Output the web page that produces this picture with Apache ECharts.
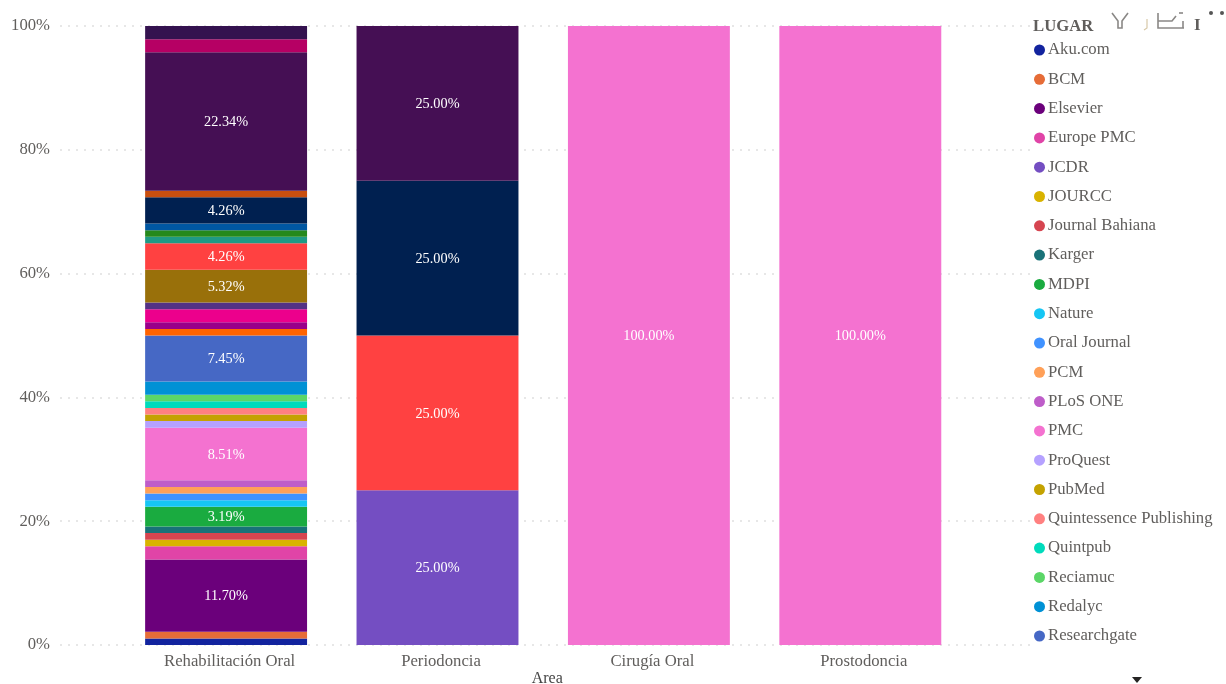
<!DOCTYPE html>
<html><head><meta charset="utf-8">
<style>html,body{margin:0;padding:0;background:#fff}#c{width:1226px;height:684px}</style>
<script src="https://cdn.jsdelivr.net/npm/echarts@6/dist/echarts.min.js"></script>
</head><body><div id="c"></div>
<script>
const categories = ['Rehabilitación Oral','Periodoncia','Cirugía Oral','Prostodoncia'];
const yTicks = ['0%','20%','40%','60%','80%','100%'];
const legendTitle = 'LUGAR';
const axisName = 'Area';

// Publication counts per area, stacked bottom to top (names after Researchgate are scrolled out of the legend)
const seriesNames = ['Aku.com','BCM','Elsevier','Europe PMC','JCDR','JOURCC','Journal Bahiana','Karger','MDPI','Nature','Oral Journal','PCM','PLoS ONE','PMC','ProQuest','PubMed','Quintessence Publishing','Quintpub','Reciamuc','Redalyc','Researchgate',
  'Lugar 22','Lugar 23','Lugar 24','Lugar 25','Lugar 26','Lugar 27','Lugar 28','Lugar 29','Lugar 30','Lugar 31','Lugar 32','Lugar 33','Lugar 34','Lugar 35'];
const legendNames = seriesNames.slice(0,21);
const palette = ['#12239E','#E66C37','#6B007B','#E044A7','#744EC2','#D9B300','#D64550','#197278','#1AAB40','#15C6F4','#4092FF','#FFA058','#BE5DC9','#F472D0','#B5A1FF','#C4A200','#FF8080','#00DBBC','#5BD667','#0091D5','#4668C5',
  '#FF6300','#99008A','#EC008C','#533285','#99700A','#FF4141','#1F9A85','#25891C','#0057A2','#002050','#C94F0F','#450F54','#B60064','#34124F'];
const rehabilitacion = [1,1,11,2,0,1,1,1,3,1,1,1,1,8,1,1,1,1,1,2,7,1,1,2,1,5,4,1,1,1,4,1,21,2,2];
const periodoncia    = [0,0,0,0,1,0,0,0,0,0,0,0,0,0,0,0,0,0,0,0,0,0,0,0,0,0,1,0,0,0,1,0,1,0,0];
const cirugia        = [0,0,0,0,0,0,0,0,0,0,0,0,0,1,0,0,0,0,0,0,0,0,0,0,0,0,0,0,0,0,0,0,0,0,0];
const prostodoncia   = [0,0,0,0,0,0,0,0,0,0,0,0,0,1,0,0,0,0,0,0,0,0,0,0,0,0,0,0,0,0,0,0,0,0,0];
const columns = [rehabilitacion,periodoncia,cirugia,prostodoncia];
const labelMinPercent = 3;

const serif = '"Liberation Serif","Times New Roman",serif';
const gray = '#605E5C';
const totals = columns.map(c => c.reduce((a,b)=>a+b,0));

const series = seriesNames.map((name,i)=>({
  name, type:'bar', stack:'total', xAxisIndex:0, yAxisIndex:0,
  barWidth:'76.6%',
  itemStyle:{color:palette[i]},
  label:{show:true,position:'inside',offset:[0,1],color:'#fff',fontFamily:serif,fontSize:14.3,
    formatter:p=>p.value>=labelMinPercent?p.value.toFixed(2)+'%':''},
  data:columns.map((c,k)=>c[i]?c[i]/totals[k]*100:null)
}));
// Empty series that carries the long gridlines and y-axis labels
series.push({type:'bar',xAxisIndex:1,yAxisIndex:1,data:[],silent:true});

const chart = echarts.init(document.getElementById('c'),null,{renderer:'canvas'});
const iconColor = '#8a8886';
const iconLine = {stroke:iconColor,fill:null,lineWidth:1.6};
chart.setOption({
  animation:false,
  backgroundColor:'#fff',
  color:palette,
  title:{text:legendTitle,left:1028,top:13,textStyle:{fontFamily:serif,fontSize:16.7,fontWeight:'bold',color:gray}},
  legend:{
    data:legendNames,orient:'vertical',left:1029,top:34,
    icon:'circle',itemWidth:11,itemHeight:11,itemGap:7.3,selectedMode:false,
    textStyle:{fontFamily:serif,fontSize:16.7,color:gray,lineHeight:18,padding:[4,0,0,-2]}
  },
  grid:[
    {left:120.4,right:260,top:26,bottom:39,outerBoundsMode:'none'},
    {left:60,right:196,top:26,bottom:39,outerBoundsMode:'none'}
  ],
  xAxis:[
    {type:'category',gridIndex:0,data:categories,
      axisLine:{show:false},axisTick:{show:false},
      axisLabel:{fontFamily:serif,fontSize:16.7,color:gray,margin:8,padding:[0,0,0,7]},
      name:axisName,nameLocation:'middle',nameGap:26,nameMoveOverlap:false,
      nameTextStyle:{fontFamily:serif,fontSize:16,color:'#444',padding:[0,0,0,8]}},
    {type:'category',gridIndex:1,data:categories,show:false}
  ],
  yAxis:[
    {type:'value',gridIndex:0,min:0,max:100,show:false},
    {type:'value',gridIndex:1,min:0,max:100,interval:20,
      axisLine:{show:false},axisTick:{show:false},
      axisLabel:{fontFamily:serif,fontSize:16.7,color:gray,margin:10,padding:[4,0,0,0],formatter:v=>yTicks[v/20]},
      splitLine:{show:true,lineStyle:{color:'#e0e0e0',type:[2,6],width:1.5}}}
  ],
  series,
  graphic:[
    // Clipped visual-header icons and the scroll arrow at the edge of the legend
    {type:'polyline',shape:{points:[[1112,13],[1118,21],[1118,28],[1122,28],[1122,21],[1128,13]]},style:iconLine,silent:true},
    {type:'polyline',shape:{points:[[1158,13],[1158,28],[1184,28]]},style:iconLine,silent:true},
    {type:'polyline',shape:{points:[[1158,21],[1172,21],[1176,16]]},style:iconLine,silent:true},
    {type:'polyline',shape:{points:[[1183,21],[1183,28]]},style:iconLine,silent:true},
    {type:'polyline',shape:{points:[[1179,13],[1183,13]]},style:iconLine,silent:true},
    {type:'polyline',shape:{points:[[1147,19],[1147,28],[1144,30]]},style:{stroke:'#d8c9a8',fill:null,lineWidth:1.2},silent:true},
    {type:'text',left:1194,top:17,style:{text:'I',font:'bold 17px '+serif,fill:gray},silent:true},
    {type:'circle',shape:{cx:1211,cy:13,r:2},style:{fill:'#555'},silent:true},
    {type:'circle',shape:{cx:1222,cy:13,r:2},style:{fill:'#555'},silent:true},
    {type:'polygon',shape:{points:[[1132,677],[1142,677],[1137,683]]},style:{fill:'#252423'},silent:true}
  ]
});
</script></body></html>
